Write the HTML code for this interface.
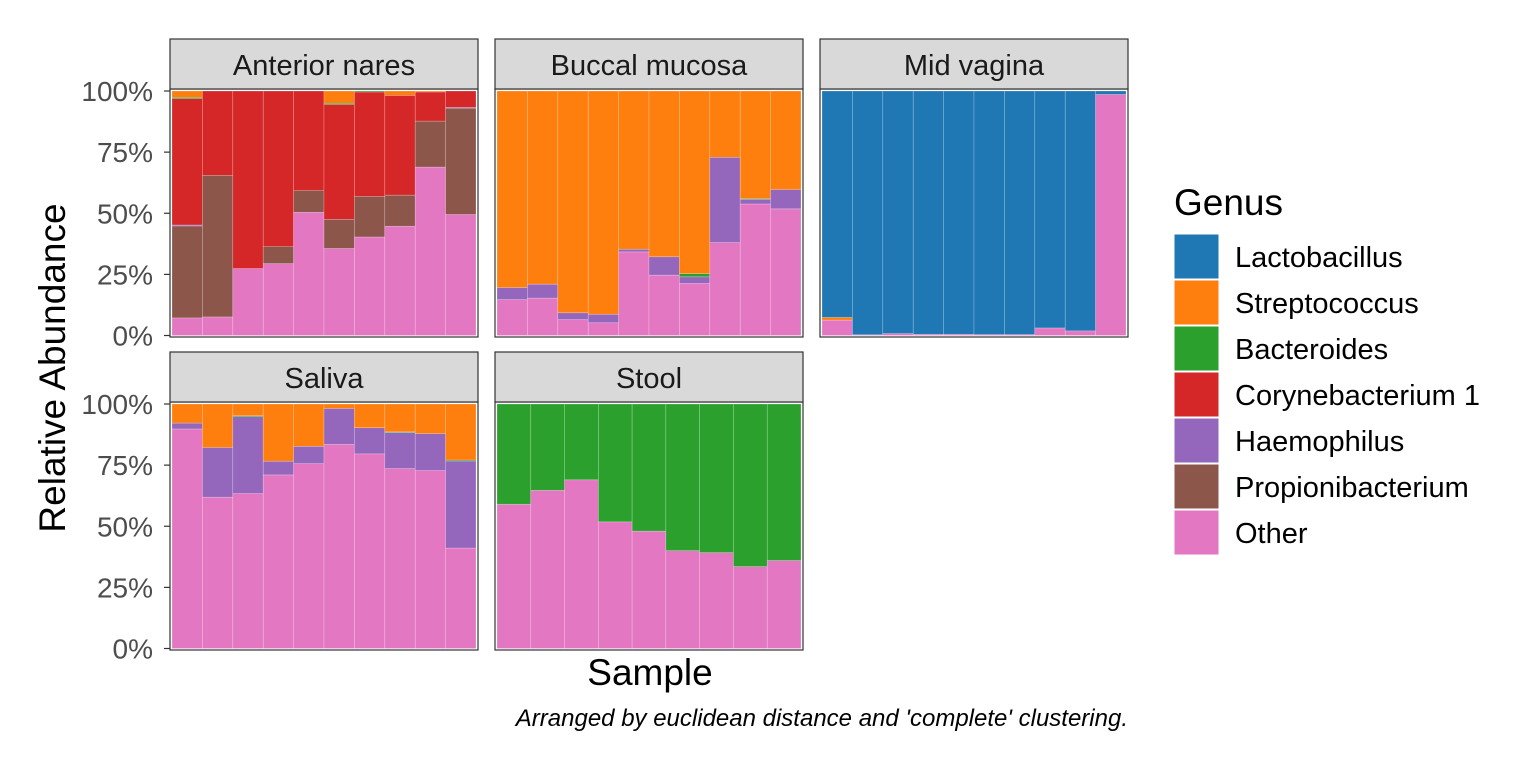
<!DOCTYPE html>
<html><head><meta charset="utf-8"><style>
body{margin:0;background:#fff;}
svg{display:block;font-family:"Liberation Sans",Arial,sans-serif;}
</style></head><body>
<svg id="chart" width="1536" height="768" xmlns="http://www.w3.org/2000/svg">
<rect width="1536" height="768" fill="#fff"/>
<g id="panels"></g>
<text transform="translate(65,368) rotate(-90)" text-anchor="middle" font-size="37" fill="#000">Relative Abundance</text>
<text x="650" y="685" text-anchor="middle" font-size="37" fill="#000">Sample</text>
<text x="1128" y="726" text-anchor="end" font-size="24" font-style="italic" fill="#000">Arranged by euclidean distance and 'complete' clustering.</text>
<g>
<text x="1174" y="215" font-size="37" fill="#000">Genus</text>
<g id="legend"></g>
</g>
</svg>
<script>
const genera = ["Other","Propionibacterium","Haemophilus","Corynebacterium 1","Bacteroides","Streptococcus","Lactobacillus"];
const colors = ["#e377c2","#8c564b","#9467bd","#d62728","#2ca02c","#ff7f0e","#1f77b4"];
const legendOrder = ["Lactobacillus","Streptococcus","Bacteroides","Corynebacterium 1","Haemophilus","Propionibacterium","Other"];
const panelNames = ["Anterior nares","Buccal mucosa","Mid vagina","Saliva","Stool"];
const tickValues = [0,0.25,0.5,0.75,1];
const tickLabels = ["0%","25%","50%","75%","100%"];
const naresOther = [0.072,0.076,0.274,0.294,0.504,0.356,0.403,0.447,0.689,0.495];
const naresProp  = [0.376,0.579,0,0.07,0.089,0.119,0.166,0.127,0.188,0.435];
const naresHaem  = [0.004,0,0,0,0,0,0,0,0,0.003];
const naresCory  = [0.517,0.345,0.726,0.636,0.407,0.47,0.427,0.408,0.119,0.067];
const naresBact  = [0.005,0,0,0,0,0.005,0.004,0,0,0];
const naresStrep = [0.026,0,0,0,0,0.05,0,0.018,0.004,0];
const buccalOther = [0.147,0.153,0.065,0.052,0.342,0.247,0.213,0.38,0.538,0.518];
const buccalHaem  = [0.049,0.057,0.028,0.035,0.011,0.075,0.027,0.349,0.019,0.079];
const buccalBact  = [0,0,0,0,0,0,0.013,0,0.003,0];
const buccalStrep = [0.804,0.79,0.907,0.913,0.647,0.678,0.747,0.271,0.44,0.403];
const vagOther = [0.063,0.003,0.008,0.005,0.005,0.004,0.004,0.031,0.019,0.986];
const vagStrep = [0.011,0,0,0,0,0,0,0,0,0];
const vagLacto = [0.926,0.997,0.992,0.995,0.995,0.996,0.996,0.969,0.981,0.014];
const salOther = [0.898,0.619,0.634,0.71,0.756,0.835,0.796,0.736,0.728,0.411];
const salHaem  = [0.024,0.203,0.314,0.056,0.071,0.147,0.107,0.147,0.151,0.356];
const salBact  = [0,0,0.004,0,0,0,0,0.003,0,0.004];
const salStrep = [0.078,0.178,0.048,0.234,0.173,0.018,0.097,0.114,0.121,0.229];
const stoolOther = [0.59,0.647,0.69,0.518,0.48,0.4,0.392,0.335,0.36];
const stoolBact  = [0.41,0.353,0.31,0.482,0.52,0.6,0.608,0.665,0.64];

const Z10 = new Array(10).fill(0), Z9 = new Array(9).fill(0);
const panelData = [
 [naresOther,naresProp,naresHaem,naresCory,naresBact,naresStrep,Z10],
 [buccalOther,Z10,buccalHaem,Z10,buccalBact,buccalStrep,Z10],
 [vagOther,Z10,Z10,Z10,Z10,vagStrep,vagLacto],
 [salOther,Z10,salHaem,Z10,salBact,salStrep,Z10],
 [stoolOther,Z9,Z9,Z9,stoolBact,Z9,Z9]
];
const NS="http://www.w3.org/2000/svg";
function mk(tag,attrs,parent){const e=document.createElementNS(NS,tag);for(const k in attrs)e.setAttribute(k,attrs[k]);parent.appendChild(e);return e;}
const colX=[170,495,820], W=308;
const rows=[{strip:39,top:89,bot:337},{strip:352,top:402,bot:650}];
const root=document.getElementById('panels');
panelData.forEach((series,pi)=>{
  const r=rows[Math.floor(pi/3)], px=colX[pi%3];
  const g=mk('g',{},root);
  
  
  const y0=r.bot-1.5, y1=r.top+2;
  const yS=v=>y0-(y0-y1)*v;
  const n=series[0].length, x0=px+2, bw=(W-4)/n;
  const xS=i=>x0+i*bw;
  for(let i=0;i<n;i++){
    let cum=0;
    series.forEach((vals,gi)=>{
      const v=vals[i]; if(!v) return;
      const rc=mk('rect',{x:xS(i),y:yS(cum+v),width:bw,height:yS(cum)-yS(cum+v),fill:colors[gi],stroke:"rgba(255,255,255,0.35)","stroke-width":0.6},g);
      
      
      cum+=v;
    });
  }
  mk('rect',{x:px,y:r.top,width:W,height:r.bot-r.top,fill:"none",stroke:"#333","stroke-width":1.2},g);
  const s=mk('rect',{x:px,y:r.strip,width:W,height:r.top-r.strip,fill:"#d9d9d9",stroke:"#333","stroke-width":1.2},g);
  
  
  const t=mk('text',{x:px+W/2,y:r.strip+36,"text-anchor":"middle","font-size":29,fill:"#1a1a1a"},g);
  t.textContent=panelNames[pi];
  
  
  if(pi%3===0){
    tickValues.forEach((tv,ti)=>{
      const y=yS(tv);
      mk('line',{x1:px-6,x2:px,y1:y,y2:y,stroke:"#333","stroke-width":1.2},g);
      const tl=mk('text',{x:px-17,y:y+10,"text-anchor":"end","font-size":28,fill:"#4d4d4d"},g);
      tl.textContent=tickLabels[ti];
      
      
    });
  }
});
const lg=document.getElementById('legend');
legendOrder.forEach((name,i)=>{
  const gi=genera.indexOf(name), y=234+i*46;
  const k=mk('rect',{x:1174,y:y,width:45,height:45,fill:colors[gi],stroke:"#fff","stroke-width":1},lg);
  
  
  const t=mk('text',{x:1235,y:y+33,"font-size":29,fill:"#000"},lg);
  t.textContent=name;
  
  
});
</script>
</body></html>
